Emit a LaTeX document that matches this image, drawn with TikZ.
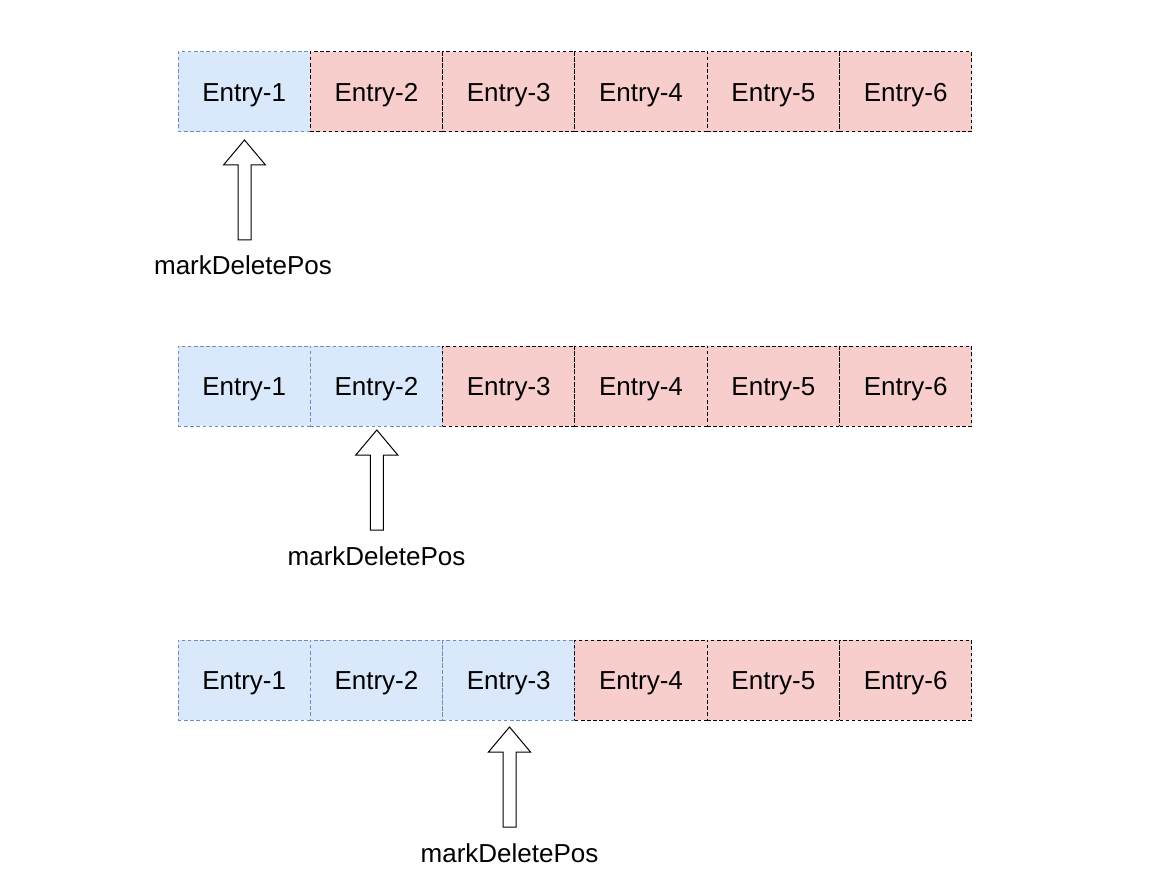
\documentclass[tikz,border=0pt]{standalone}
\usepackage{fontspec}
\setmainfont{Liberation Sans}
\definecolor{bluefill}{HTML}{DAE8FC}
\definecolor{bluedraw}{HTML}{6C8EBF}
\definecolor{redfill}{HTML}{F8CECC}
\tikzset{
  cell/.style={minimum width=132.3*0.75pt, minimum height=80*0.75pt, inner sep=0pt, outer sep=0pt,
    text height=14pt, text depth=0pt,
    font=\fontsize{19.5pt}{23pt}\selectfont, dash pattern=on 2.6pt off 2.0pt, line width=0.75pt, anchor=north west},
  done/.style={cell, fill=bluefill, draw=bluedraw},
  todo/.style={cell, fill=redfill, draw=black},
  blockarrow/.style={draw=black, fill=white, line width=0.75pt, line join=miter},
  poslabel/.style={font=\fontsize{19.5pt}{23pt}\selectfont, inner sep=0pt, text height=14pt, text depth=0pt}
}
\newcommand{\blockarrowat}[1]{%
  \draw[blockarrow] (#1) -- ++(21,25) -- ++(-14.5,0) -- ++(0,75) -- ++(-13,0) -- ++(0,-75) -- ++(-14.5,0) -- cycle;}
\begin{document}
\begin{tikzpicture}[x=0.75pt, y=-0.75pt]
\useasboundingbox (0,0) rectangle (1156,884);
% row 1
\foreach \i in {1,...,6} {
  \pgfmathsetmacro{\xx}{178+132.3*(\i-1)}
  \ifnum\i<2 \node[done] (a\i) at (\xx,52) {Entry-\i};
  \else \node[todo] (a\i) at (\xx,52) {Entry-\i}; \fi
}
\coordinate (t1) at (244.5,140);
\blockarrowat{t1}
\node[poslabel] (l1) at (243,265) {markDeletePos};
% row 2
\foreach \i in {1,...,6} {
  \pgfmathsetmacro{\xx}{178+132.3*(\i-1)}
  \ifnum\i<3 \node[done] (b\i) at (\xx,346) {Entry-\i};
  \else \node[todo] (b\i) at (\xx,346) {Entry-\i}; \fi
}
\coordinate (t2) at (376.8,430);
\blockarrowat{t2}
\node[poslabel] (l2) at (376.5,556) {markDeletePos};
% row 3
\foreach \i in {1,...,6} {
  \pgfmathsetmacro{\xx}{178+132.3*(\i-1)}
  \ifnum\i<4 \node[done] (c\i) at (\xx,640) {Entry-\i};
  \else \node[todo] (c\i) at (\xx,640) {Entry-\i}; \fi
}
\coordinate (t3) at (509.5,727);
\blockarrowat{t3}
\node[poslabel] (l3) at (509.5,853) {markDeletePos};
\end{tikzpicture}
\end{document}
